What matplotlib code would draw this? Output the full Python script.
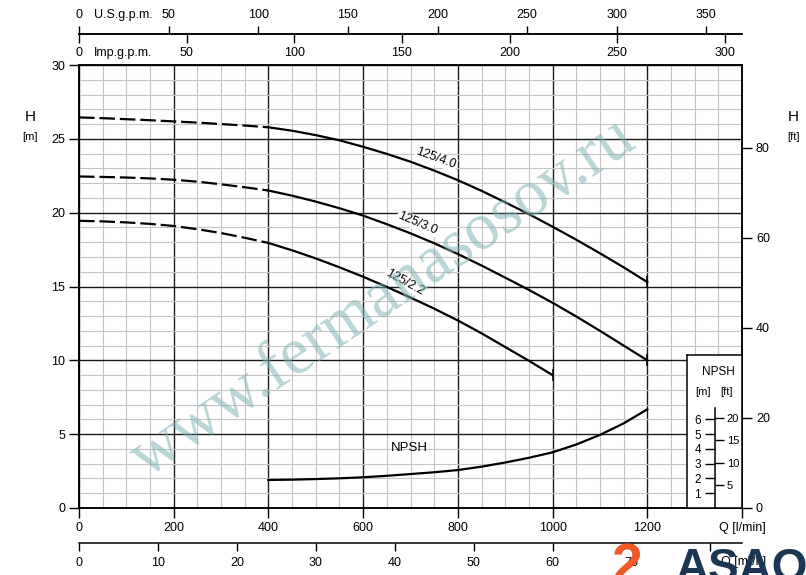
import numpy as np
import matplotlib.pyplot as plt
from matplotlib.ticker import MultipleLocator

plt.rcParams['font.family'] = ['Liberation Sans Narrow', 'Liberation Sans', 'DejaVu Sans']
plt.rcParams['axes.linewidth'] = 1.1

# pump curves: Q in l/min, H in m (dashed part up to 400, solid after)
q_dash = [0, 50, 100, 150, 200, 250, 300, 350, 400]
q_solid = [400, 450, 500, 550, 600, 650, 700, 750, 800, 850, 900, 950, 1000, 1050, 1100, 1150, 1200]
q_solid_22 = [400, 450, 500, 550, 600, 650, 700, 750, 800, 850, 900, 950, 1000]

h_40_dash = [26.45, 26.4, 26.33, 26.26, 26.18, 26.1, 26.0, 25.9, 25.78]
h_40 = [25.78, 25.55, 25.25, 24.9, 24.46, 23.98, 23.45, 22.85, 22.2, 21.48, 20.7,
        19.9, 19.05, 18.17, 17.25, 16.3, 15.3]
h_30_dash = [22.45, 22.42, 22.38, 22.32, 22.23, 22.1, 21.92, 21.72, 21.5]
h_30 = [21.5, 21.15, 20.75, 20.3, 19.8, 19.22, 18.6, 17.93, 17.2, 16.42, 15.6,
        14.77, 13.9, 12.97, 12.0, 11.0, 10.0]
h_22_dash = [19.45, 19.41, 19.34, 19.24, 19.1, 18.88, 18.62, 18.3, 17.95]
h_22 = [17.95, 17.45, 16.9, 16.3, 15.66, 14.97, 14.25, 13.5, 12.7, 11.83, 10.9, 9.97, 9.0]

q_npsh = [400, 450, 500, 550, 600, 650, 700, 750, 800, 850, 900, 950, 1000, 1050, 1100, 1150, 1200]
npsh = [1.9, 1.92, 1.96, 2.01, 2.08, 2.18, 2.3, 2.42, 2.57, 2.8, 3.08, 3.4, 3.77,
        4.3, 4.95, 5.73, 6.68]

x_ticks = [0, 200, 400, 600, 800, 1000, 1200, 1400]
x_ticklabels = ['0', '200', '400', '600', '800', '1000', '1200', 'Q [l/min]']
h_ticks = [0, 5, 10, 15, 20, 25, 30]
ft_ticks = [0, 20, 40, 60, 80]
us_ticks = [0, 50, 100, 150, 200, 250, 300, 350]
imp_ticks = [0, 50, 100, 150, 200, 250, 300]
m3h_ticks = [0, 10, 20, 30, 40, 50, 60, 70, 80]
m3h_labels = ['0', '10', '20', '30', '40', '50', '60', '70', '']
npsh_m_ticks = [1, 2, 3, 4, 5, 6]
npsh_ft_ticks = [5, 10, 15, 20]

M_TO_FT = 3.28084
USG = 3.78541
IMPG = 4.54609

W, H = 806, 575
fig = plt.figure(figsize=(W / 100, H / 100), dpi=100)


def fx(px):
    return px / W


def fy(py):
    return 1 - py / H


L, R, B, T = 79, 742, 508, 65
ax = fig.add_axes([fx(L), fy(B), (R - L) / W, (B - T) / H])
ax.set_xlim(0, 1400)
ax.set_ylim(0, 30)
ax.set_xticks(x_ticks, x_ticklabels)
ax.set_yticks(h_ticks)
ax.xaxis.set_minor_locator(MultipleLocator(50))
ax.yaxis.set_minor_locator(MultipleLocator(1))
ax.tick_params(which='minor', length=0)
ax.tick_params(which='major', direction='out', length=7, width=1, labelsize=9, pad=3)
ax.grid(which='minor', color='#c4c4c4', lw=0.8)
ax.grid(which='major', color='#1a1a1a', lw=1.0)
ax.set_axisbelow(True)

dash = (0, (7, 2.2))
for qd, hd, qs, hs in [(q_dash, h_40_dash, q_solid, h_40),
                       (q_dash, h_30_dash, q_solid, h_30),
                       (q_dash, h_22_dash, q_solid_22, h_22)]:
    ax.plot(qd, hd, color='k', lw=1.6, ls=dash)
    ax.plot(qs, hs, color='k', lw=1.6)
    ax.plot(qs[-1], hs[-1], marker='|', ms=8, mew=1.1, color='k')
ax.plot(q_npsh, npsh, color='k', lw=1.6)

lbl = dict(fontsize=9, ha='center', va='center',
           bbox=dict(fc='white', ec='none', pad=0.5))
ax.text(754, 23.65, '125/4.0', rotation=-20, **lbl)
ax.text(714, 19.3, '125/3.0', rotation=-23, **lbl)
ax.text(687, 15.3, '125/2.2', rotation=-29, **lbl)
ax.text(697, 4.06, 'NPSH', fontsize=9.5, ha='center', va='center')

# right axis in ft
ax2 = ax.twinx()
ax2.set_ylim(0, 30 * M_TO_FT)
ax2.set_yticks(ft_ticks)
ax2.tick_params(direction='out', length=7, width=1, labelsize=9, pad=3)

# top flow scales
ax_us = fig.add_axes([fx(L), fy(34), (R - L) / W, 1e-4])
ax_us.set_xlim(0, 1400)
ax_us.xaxis.tick_top()
ax_us.set_xticks([u * USG for u in us_ticks], [str(u) for u in us_ticks])
ax_us.tick_params(axis='x', direction='out', length=6, width=1, labelsize=9, pad=3)

ax_imp = fig.add_axes([fx(L), fy(34), (R - L) / W, 1e-4])
ax_imp.set_xlim(0, 1400)
ax_imp.set_xticks([u * IMPG for u in imp_ticks], [str(u) for u in imp_ticks])
ax_imp.tick_params(axis='x', direction='out', length=6.5, width=1, labelsize=9, pad=3)

# bottom m3/h scale
ax_m3 = fig.add_axes([fx(L), fy(543), (R - L) / W, 1e-4])
ax_m3.set_xlim(0, 1400)
ax_m3.set_xticks([m * 1000 / 60 for m in m3h_ticks], m3h_labels)
ax_m3.tick_params(axis='x', direction='out', length=6, width=1, labelsize=9, pad=4)

for a, keep in [(ax_us, 'top'), (ax_imp, 'bottom'), (ax_m3, 'bottom')]:
    for s in ['left', 'right', 'top', 'bottom']:
        a.spines[s].set_visible(s == keep)
    a.set_yticks([])
    a.patch.set_visible(False)

fig.text(fx(123), fy(15), 'U.S.g.p.m.', fontsize=9, ha='center', va='center')
fig.text(fx(123), fy(53), 'Imp.g.p.m.', fontsize=9, ha='center', va='center')
fig.text(fx(744), fy(562), 'Q [m³/h]', fontsize=9, ha='center', va='center')
fig.text(fx(30), fy(117), 'H', fontsize=11, ha='center', va='center')
fig.text(fx(30), fy(137), '[m]', fontsize=8, ha='center', va='center')
fig.text(fx(793), fy(117), 'H', fontsize=11, ha='center', va='center')
fig.text(fx(793), fy(137), '[ft]', fontsize=8, ha='center', va='center')

# NPSH scale box
ax_in = fig.add_axes([fx(687), fy(B), (R - 687) / W, (B - 355) / H], zorder=5)
ax_in.set_xticks([])
ax_in.set_yticks([])
ax_in.set_facecolor('white')
ax_in.text(0.57, 0.89, 'NPSH', transform=ax_in.transAxes, fontsize=8.5, ha='center', va='center')
ax_in.text(0.29, 0.76, '[m]', transform=ax_in.transAxes, fontsize=8, ha='center', va='center')
ax_in.text(0.72, 0.76, '[ft]', transform=ax_in.transAxes, fontsize=8, ha='center', va='center')

ax_ns = fig.add_axes([fx(715), fy(B), 1e-4, (B - 355) / H], zorder=6)
ax_ns.set_ylim(0, (B - 355) / ((B - T) / 30))
ax_ns.set_xticks([])
ax_ns.set_yticks(npsh_m_ticks)
ax_ns.tick_params(axis='y', direction='out', length=7, width=1, labelsize=8.5, pad=3)
for s in ['right', 'top', 'bottom']:
    ax_ns.spines[s].set_visible(False)
ax_ns.spines['left'].set_bounds(0, 6.77)
ax_ns.patch.set_visible(False)
sec = ax_ns.secondary_yaxis('right', functions=(lambda m: m * M_TO_FT, lambda f: f / M_TO_FT))
sec.set_yticks(npsh_ft_ticks)
sec.tick_params(axis='y', direction='out', length=6.5, width=1, labelsize=8, pad=2)
sec.spines['right'].set_visible(False)

# watermark and logo
fig.text(fx(383), fy(298), 'www.fermanasosov.ru', rotation=34, ha='center', va='center',
         fontsize=48, family='Liberation Serif', color='#7fb3b3', alpha=0.55, zorder=10)
fig.text(fx(742), fy(581), 'ASAO', ha='center', va='baseline', fontsize=33,
         weight='bold', color='#1c3553', family='Liberation Sans', zorder=11)
fig.text(fx(627), fy(582), '2', ha='center', va='baseline', fontsize=40,
         weight='bold', color='#f05a28', family='Liberation Sans', zorder=11)

fig.savefig('out.png', dpi=100)
